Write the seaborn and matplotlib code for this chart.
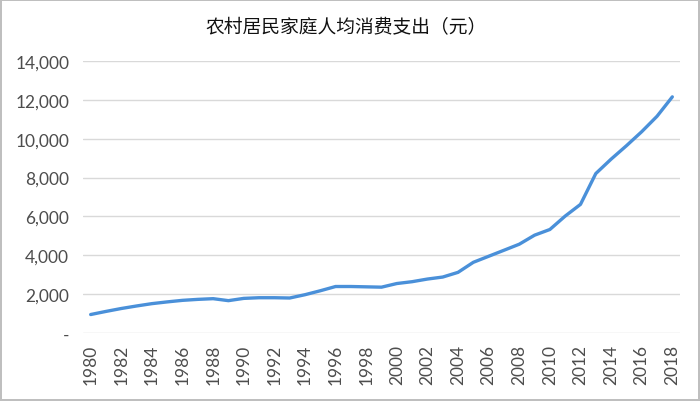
import matplotlib
matplotlib.use('Agg')
import matplotlib.pyplot as plt
from matplotlib.ticker import FuncFormatter
import seaborn as sns
import pandas as pd

years = list(range(1980, 2019))
spending = [950, 1110, 1260, 1390, 1510, 1600, 1680, 1730, 1766, 1664,
            1781, 1815, 1815, 1800, 1970, 2173, 2392, 2392, 2375, 2358,
            2545, 2640, 2776, 2879, 3121, 3638, 3948, 4258, 4569, 5034,
            5327, 6017, 6620, 8206, 8948, 9637, 10361, 11154, 12154]
title = '农村居民家庭人均消费支出（元）'

df = pd.DataFrame({'year': years, 'spending': spending})

sns.set_style('white')
plt.rcParams['font.family'] = ['Lato', 'DejaVu Sans']

fig = plt.figure(figsize=(7, 4.02), dpi=100)
fig.patch.set_edgecolor('#BFBFBF')
fig.patch.set_linewidth(1.5)
ax = fig.add_axes([0.1186, 0.1692, 0.8528, 0.6766])

sns.lineplot(data=df, x='year', y='spending', ax=ax, color='#4A90D9',
             linewidth=2.4, solid_capstyle='round')

ax.set_xlim(1979.5, 2018.5)
ax.set_ylim(0, 14000)
ax.set_yticks(range(0, 14001, 2000))
ax.set_xticks(years[::2])
ax.yaxis.set_major_formatter(FuncFormatter(lambda v, p: '-' if v == 0 else f'{int(v):,}'))
ax.grid(axis='y', color='#D9D9D9', linewidth=1)
ax.set_axisbelow(True)
for s in ax.spines.values():
    s.set_visible(False)
ax.tick_params(axis='both', length=0, labelsize=12.5, labelcolor='#4D4D4D')
ax.tick_params(axis='y', pad=10)
ax.tick_params(axis='x', pad=8, labelrotation=90)
ax.set_xlabel('')
ax.set_ylabel('')

fig.text(0.494, 0.93, title, ha='center', va='center', fontsize=13.5,
         color='#111111', family=['Noto Sans CJK SC', 'DejaVu Sans'])

fig.savefig('out.png', dpi=100, edgecolor=fig.get_edgecolor())
